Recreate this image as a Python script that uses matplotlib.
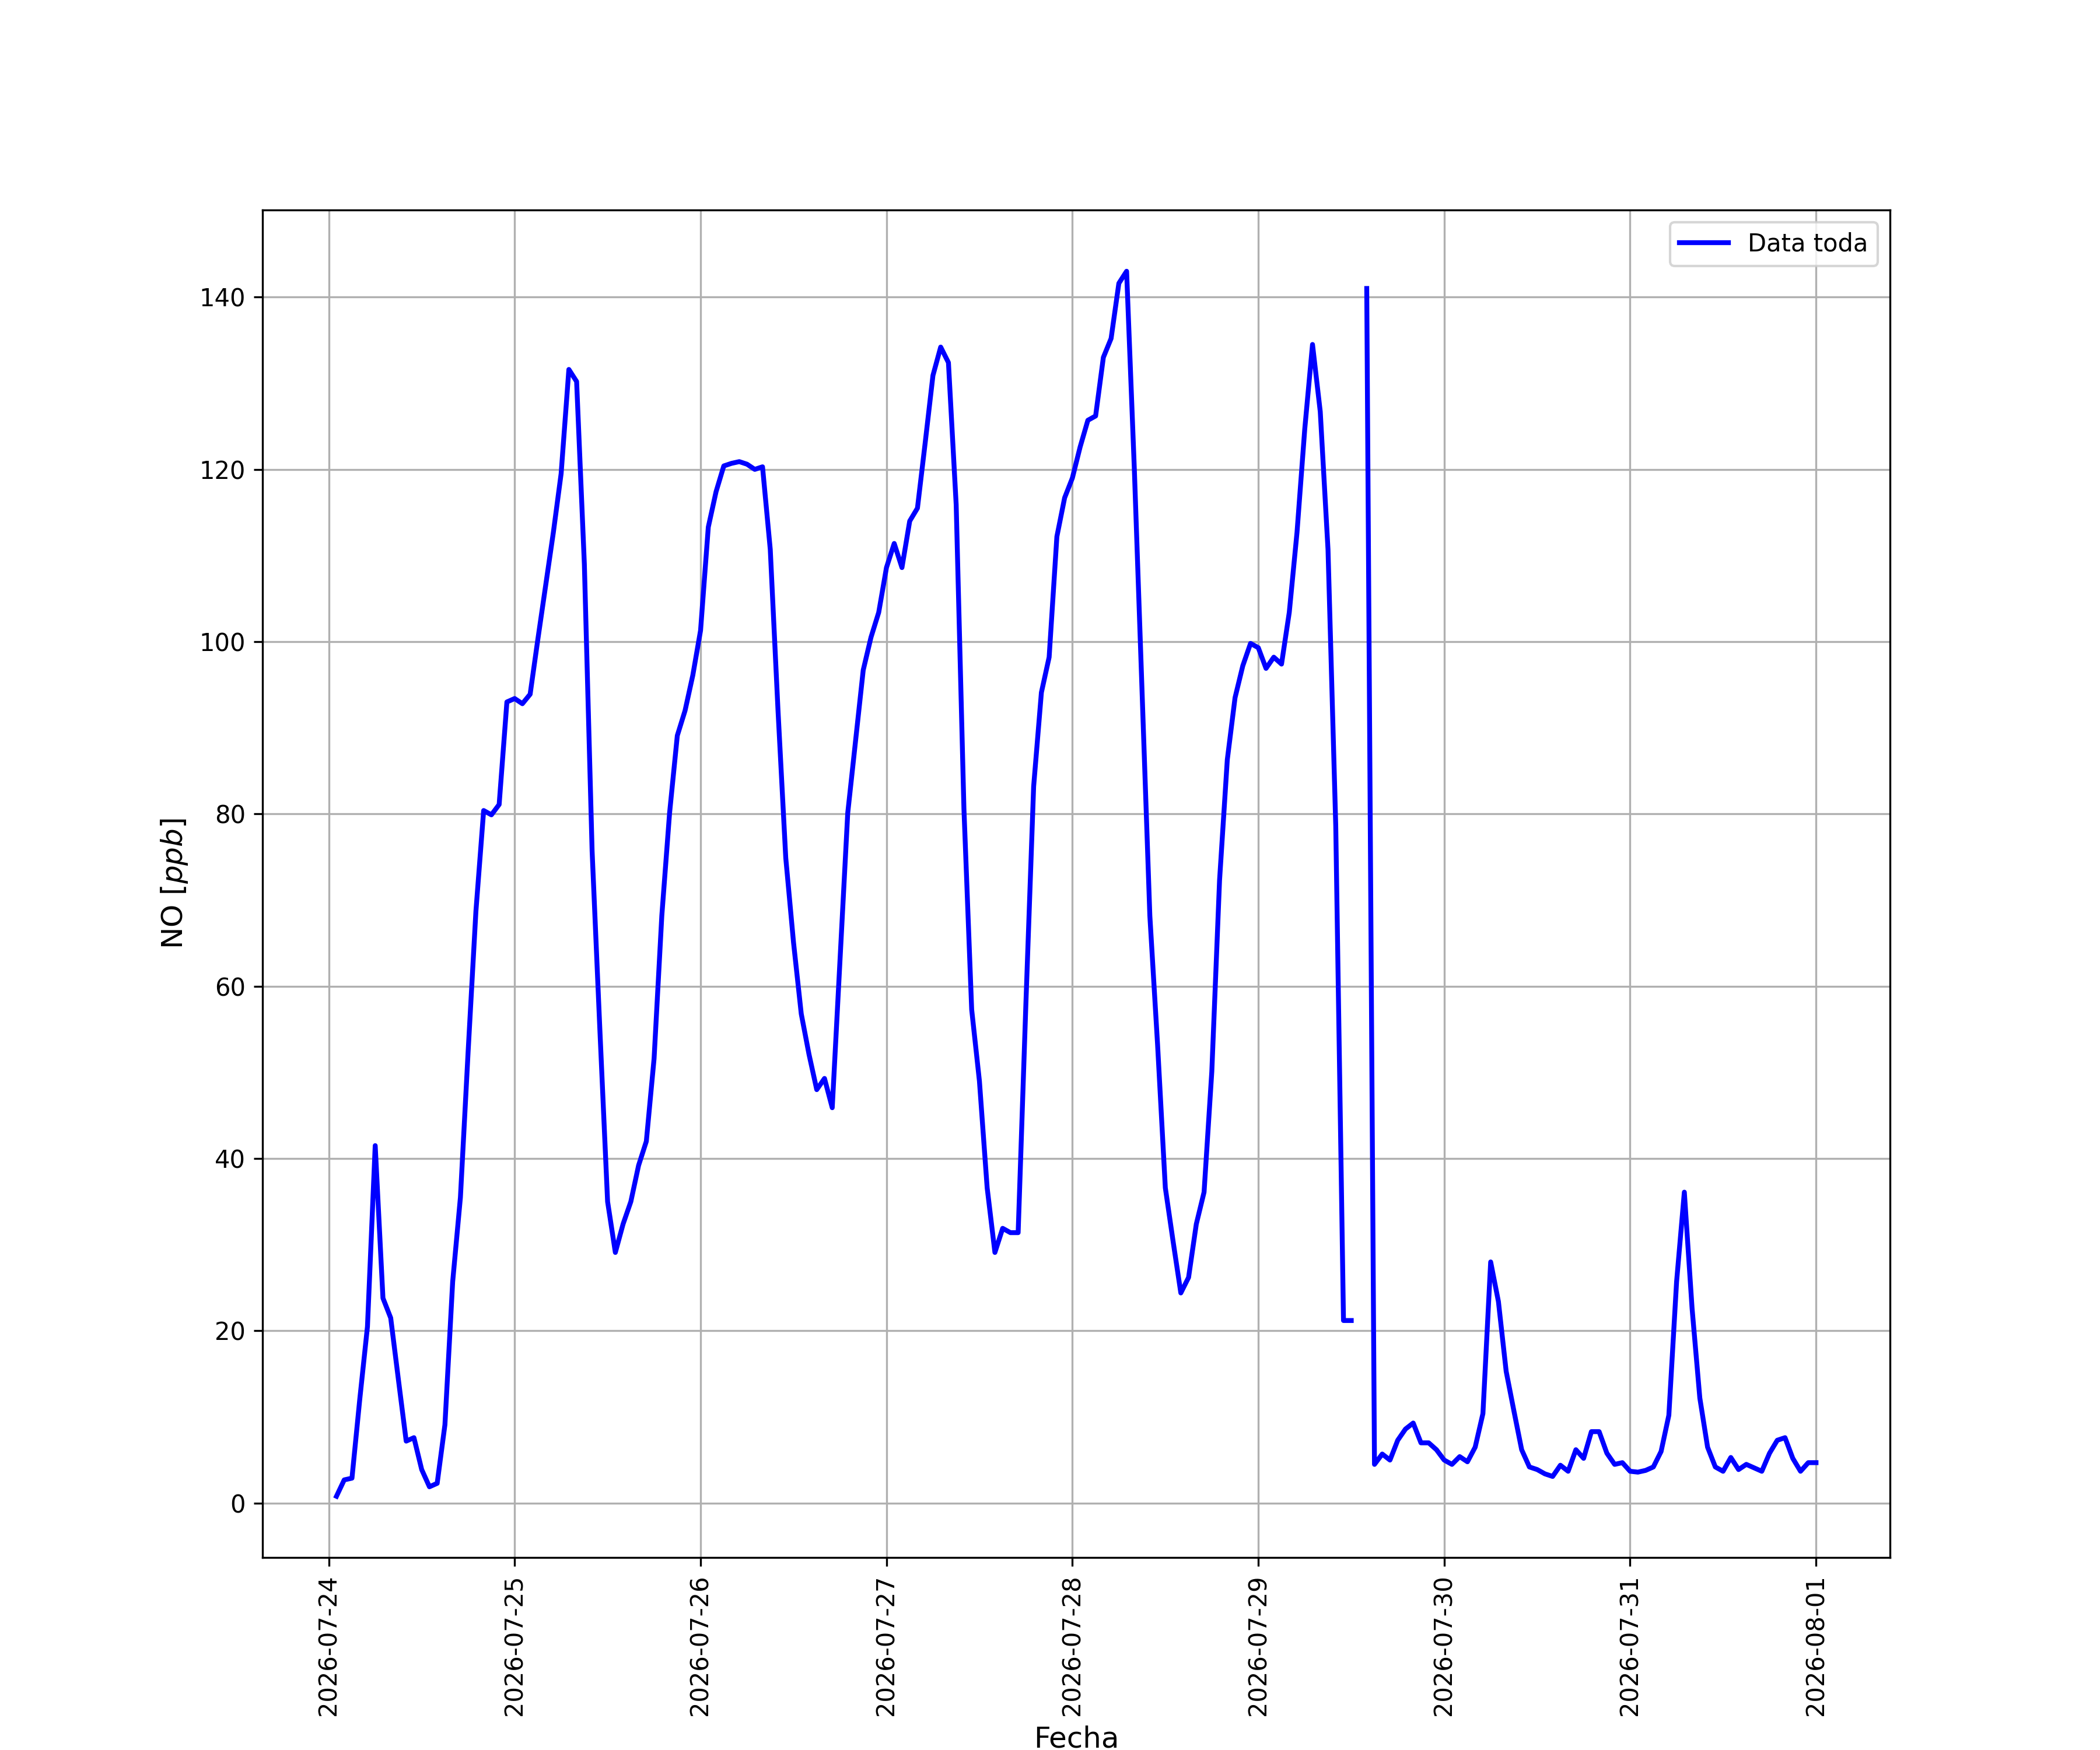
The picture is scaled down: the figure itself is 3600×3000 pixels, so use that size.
import numpy as np
import pandas as pd
import matplotlib
matplotlib.use("Agg")
import matplotlib.pyplot as plt

# NO hourly data, 2026-07-24 01:00 .. 2026-08-01 00:00
dia1 = [0.8, 2.7, 2.9, 12, 20.5, 41.5, 23.8, 21.5, 14.3, 7.2, 7.6, 3.9,
        1.9, 2.3, 9.1, 25.7, 35.5, 52.5, 68.7, 80.4, 79.9, 81.1, 93.0, 93.4]
dia2 = [92.8, 93.9, 100.3, 106.5, 112.7, 119.5, 131.6, 130.2, 109, 75.7, 55, 35,
        29.1, 32.4, 35, 39.2, 42, 51.6, 68.2, 80.1, 89.1, 92, 96.1, 101.3]
dia3 = [113.3, 117.4, 120.4, 120.7, 120.9, 120.6, 120.0, 120.3, 110.7, 92, 74.9, 65.1,
        56.8, 52.1, 48, 49.3, 45.9, 63, 80.1, 88.4, 96.7, 100.5, 103.4, 108.6]
dia4 = [111.4, 108.6, 114, 115.5, 123.1, 130.9, 134.2, 132.4, 115.9, 80.6, 57.3, 49,
        36.6, 29.1, 31.9, 31.4, 31.4, 58, 83.2, 94.1, 98.2, 112.2, 116.7, 119]
dia5 = [122.6, 125.7, 126.2, 133, 135.2, 141.6, 143, 120, 94, 68.2, 53.2, 36.6,
        30.4, 24.4, 26.2, 32.4, 36.1, 50.1, 72.3, 86.3, 93.5, 97.2, 99.8, 99.3]
dia6 = [96.9, 98.2, 97.4, 103.4, 112.7, 124.7, 134.5, 126.7, 110.7, 78.6, 21.2, 21.2,
        np.nan, 141, 4.5, 5.7, 5.0, 7.3, 8.6, 9.3, 7.0, 7.0, 6.2, 5.0]
dia7 = [4.5, 5.4, 4.8, 6.5, 10.4, 28, 23.4, 15.3, 10.7, 6.2, 4.2, 3.9,
        3.4, 3.1, 4.4, 3.7, 6.2, 5.2, 8.3, 8.3, 5.8, 4.5, 4.7, 3.7]
dia8 = [3.6, 3.8, 4.2, 6.0, 10.2, 25.7, 36.1, 22.6, 12.2, 6.5, 4.2, 3.7,
        5.3, 3.9, 4.5, 4.1, 3.7, 5.8, 7.3, 7.6, 5.2, 3.7, 4.7, 4.7]

valores = dia1 + dia2 + dia3 + dia4 + dia5 + dia6 + dia7 + dia8
fechas = pd.date_range("2026-07-24 01:00", periods=len(valores), freq="h")
serie = pd.Series(valores, index=fechas)

fig = plt.figure(figsize=(12, 10), dpi=300)
plt.plot(serie.index, serie.values, color="blue", linewidth=2, label="Data toda")
plt.grid(True)
plt.xticks(rotation=90)
plt.xlabel("Fecha", fontsize=12)
plt.ylabel("NO [$ppb$]", fontsize=12)
plt.legend(loc="upper right")
plt.savefig("out.png", dpi=300)
